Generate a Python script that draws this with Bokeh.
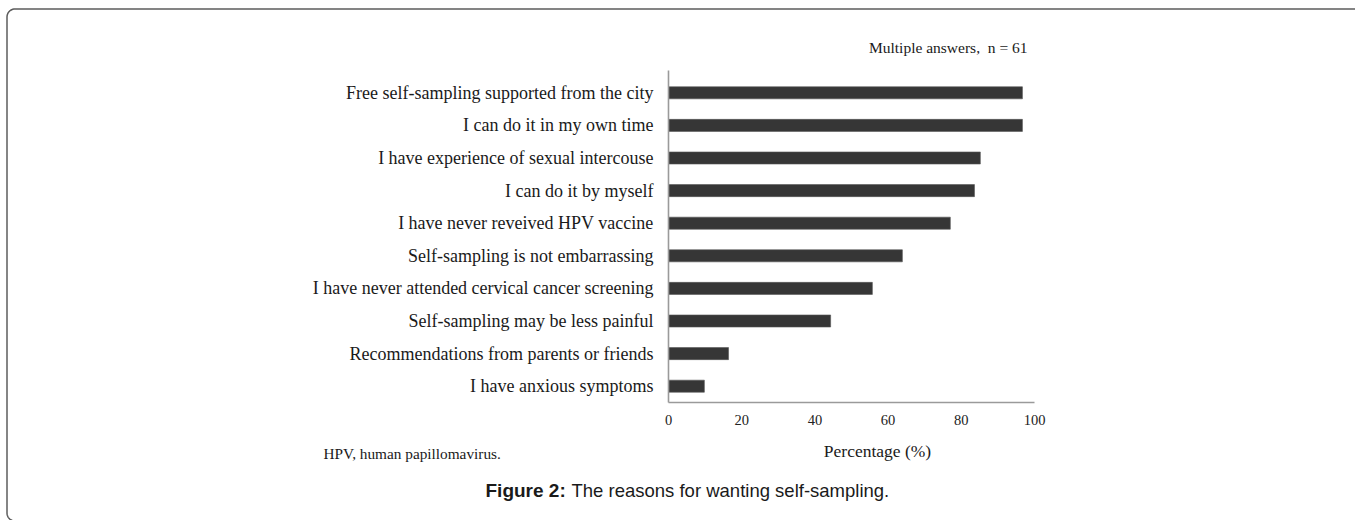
import numpy as np
from bokeh.plotting import figure
from bokeh.models import Range1d, FixedTicker, Label, LinearAxis
from bokeh.embed import file_html
from bokeh.resources import INLINE

reasons = [
    "Free self-sampling supported from the city",
    "I can do it in my own time",
    "I have experience of sexual intercouse",
    "I can do it by myself",
    "I have never reveived HPV vaccine",
    "Self-sampling is not embarrassing",
    "I have never attended cervical cancer screening",
    "Self-sampling may be less painful",
    "Recommendations from parents or friends",
    "I have anxious symptoms",
]
percent = [96.7, 96.7, 85.2, 83.6, 77.0, 63.9, 55.7, 44.3, 16.4, 9.8]
x_ticks = [0, 20, 40, 60, 80, 100]

n = len(reasons)
ypos = list(range(n, 0, -1))

SERIF = "Liberation Serif"
SANS = "Liberation Sans"

W, H = 1355, 520
# pixel geometry of the plotting area (x: 0..100 spans 668..1034 px,
# category rows are 32.6 px apart, first row centred at 92.3 px)
X0, XK = 668.0, 3.66
Y_TOP_ROW, YK = 92.3, 32.6

def xd(px):
    return (np.asarray(px, dtype=float) - X0) / XK

def yd(py):
    return n - (np.asarray(py, dtype=float) - Y_TOP_ROW) / YK

p = figure(width=W, height=H, output_backend="svg", toolbar_location=None,
           x_range=Range1d(float(xd(0)), float(xd(W))),
           y_range=Range1d(float(yd(H)), float(yd(0))),
           x_axis_location=None, y_axis_location=None,
           min_border=0)
p.outline_line_color = None
p.xgrid.grid_line_color = None
p.ygrid.grid_line_color = None
p.background_fill_color = "white"
p.border_fill_color = "white"

# rounded page frame (left, top and bottom edges; right edge lies off-page)
r = 8.0
L, T, B, RR = 6.5, 8.5, 520.5, 1420.0
t1 = np.linspace(np.pi / 2, np.pi, 12)
t2 = np.linspace(np.pi, 1.5 * np.pi, 12)
fx = np.concatenate([[RR], L + r + r * np.cos(t1), L + r + r * np.cos(t2), [RR]])
fy = np.concatenate([[T], T + r - r * np.sin(t1), B - r - r * np.sin(t2), [B]])
p.line(xd(fx), yd(fy), line_color="#5c5c5c", line_width=1.5)

p.hbar(y=ypos, left=0, right=percent, height=0.37,
       fill_color="#363636", line_color="#555555", line_width=0.6)

ax = LinearAxis(fixed_location=0.5, bounds=(0, 100))
ax.ticker = FixedTicker(ticks=x_ticks)
ax.major_tick_line_color = None
ax.minor_tick_line_color = None
ax.axis_line_color = "#9a9a9a"
ax.axis_line_width = 1.6
ax.major_label_text_font = SERIF
ax.major_label_text_font_size = "14.5px"
ax.major_label_text_color = "#222222"
ax.major_label_standoff = 6
p.add_layout(ax, "below")

ay = LinearAxis(fixed_location=0, bounds=(0.5, float(yd(70))))
ay.ticker = FixedTicker(ticks=ypos)
ay.major_label_overrides = {y: t for y, t in zip(ypos, reasons)}
ay.major_tick_line_color = None
ay.minor_tick_line_color = None
ay.axis_line_color = "#9a9a9a"
ay.axis_line_width = 1.6
ay.major_label_text_font = SERIF
ay.major_label_text_font_size = "18px"
ay.major_label_text_color = "#1a1a1a"
ay.major_label_standoff = 9
p.add_layout(ay, "left")

def lab(text, px, py, font, size, align="left", style="normal"):
    p.add_layout(Label(x=float(xd(px)), y=float(yd(py)), text=text,
                       text_font=font, text_font_size=size, text_align=align,
                       text_baseline="middle", text_color="#1a1a1a",
                       text_font_style=style))

lab("Multiple answers,\u00a0 n = 61", 1027, 47, SERIF, "15.5px", align="right")
lab("Percentage (%)", 877, 450, SERIF, "17.5px", align="center")
lab("HPV, human papillomavirus.", 323, 453, SERIF, "15.3px")
lab("Figure 2:", 485, 490, SANS, "19px", style="bold")
lab("The reasons for wanting self-sampling.", 571, 490, SANS, "18.5px")

open("out.html", "w").write(file_html(p, INLINE))
